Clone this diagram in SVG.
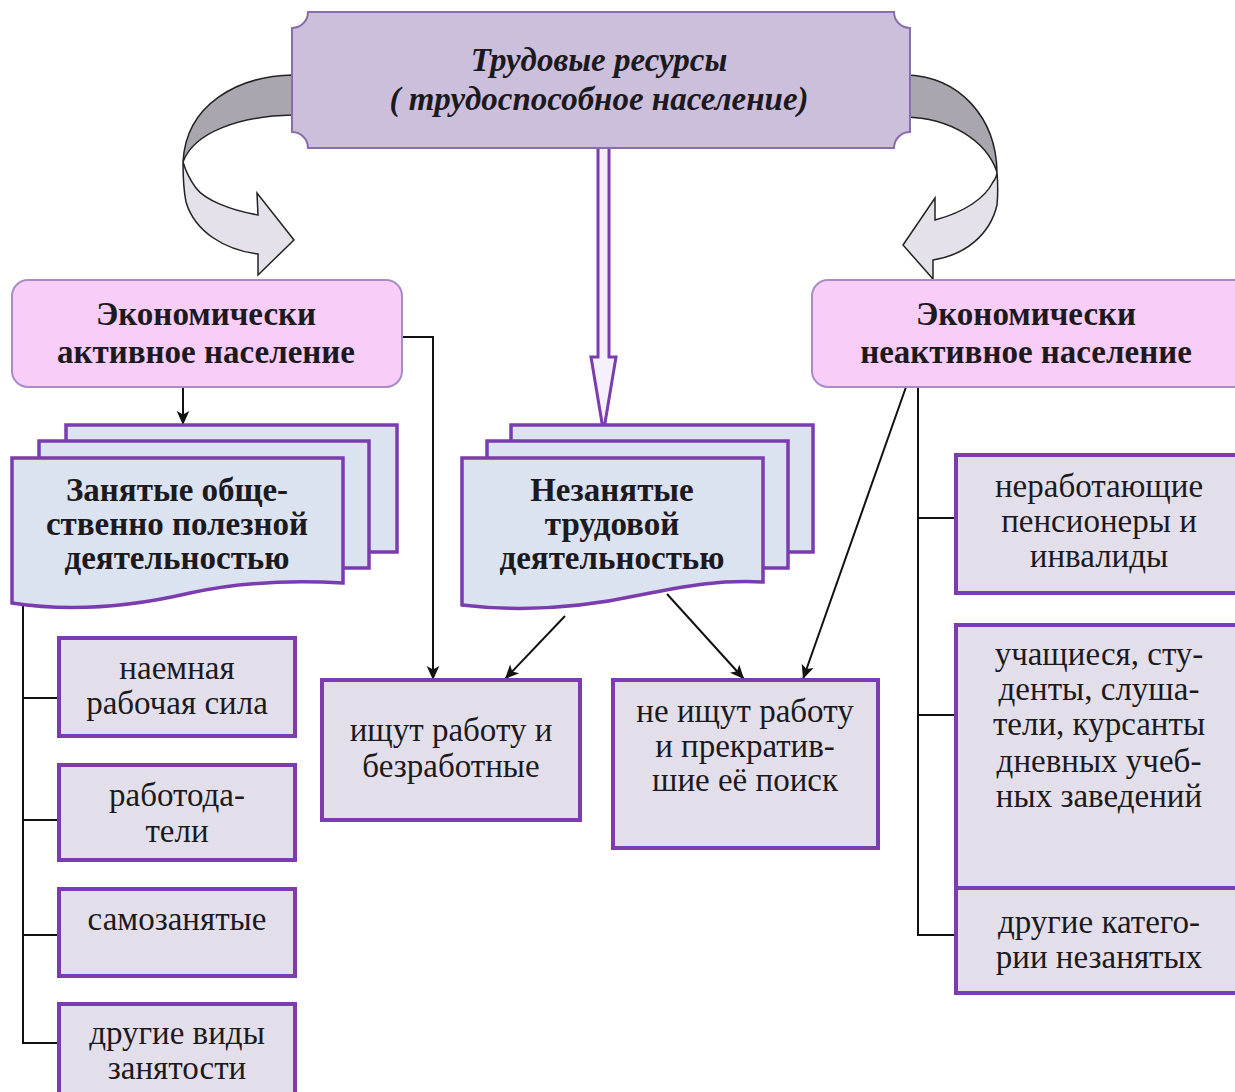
<svg xmlns="http://www.w3.org/2000/svg" width="1235" height="1092" viewBox="0 0 1235 1092">
<defs>
<style>
text{font-family:"Liberation Serif","Times New Roman",serif;fill:#1c1a1e;text-anchor:middle}
.ti{font-size:33px;font-weight:bold;font-style:italic}
.tb{font-size:33px;font-weight:bold}
.tr{font-size:33px}
.pink{fill:#f8cdf7;stroke:#a88cc8;stroke-width:2}
.doc{fill:#dbe2f0;stroke:#7b3cb0;stroke-width:3.5}
.box{fill:#e3dfea;stroke:#7b3cb0;stroke-width:4}
.ln{fill:none;stroke:#111;stroke-width:2}
.dark{fill:#a9a6af;stroke:#222;stroke-width:1.5}
.light{fill:#e4e1ea;stroke:#222;stroke-width:1.5}
</style>
<marker id="ahb" viewBox="0 0 10 10" refX="10" refY="5" markerWidth="16" markerHeight="14" markerUnits="userSpaceOnUse" orient="auto"><path d="M0,0.5 L10,5 L0,9.5 L2.5,5 Z" fill="#111"/></marker>
</defs>
<rect width="1235" height="1092" fill="#ffffff"/>

<g id="connectors">
<path class="dark" d="M293,75 C238,76 186,104 183,162 C194,132 240,116 293,115 Z"/>
<path class="light" d="M183,162 C183,182 184,192 186,202 C195,232 225,250 258,254 L258,275 L294,240 L257,193 L258,215 C230,210 205,200 196,188 C190,180 186,172 183,162 Z"/>
<path class="dark" d="M905,75 C960,76 996,118 997,172 C986,140 950,118 905,117 Z"/>
<path class="light" d="M997,172 C998,185 998,195 997,205 C990,235 965,255 933,260 L933,279 L903,245 L935,198 L935,220 C965,212 985,198 993,182 C996,178 997,175 997,172 Z"/>
<path d="M598,148 V357 H591 L603.5,432 L616,357 H609 V148" fill="#f5f0fb" stroke="#7b3cb0" stroke-width="3" stroke-linejoin="miter"/>
<path class="ln" d="M183,387 V425" marker-end="url(#ahb)"/>
<path class="ln" d="M402,337 H433 V680" marker-end="url(#ahb)"/>
<path class="ln" d="M565,616 L505,679" marker-end="url(#ahb)"/>
<path class="ln" d="M667,594 L744,679" marker-end="url(#ahb)"/>
<path class="ln" d="M906,387 L803,679" marker-end="url(#ahb)"/>
<path class="ln" d="M23,603 V1043 H59 M23,698 H59 M23,820 H59 M23,935 H59"/>
<path class="ln" d="M918,387 V935 H956 M918,518 H956 M918,715 H956"/>
</g>

<g id="top">
<path d="M308,12 H894 A16,16 0 0 0 910,28 V132 A16,16 0 0 0 894,148 H308 A16,16 0 0 0 292,132 V28 A16,16 0 0 0 308,12 Z" fill="#cbbfdc" stroke="#8a6dac" stroke-width="2"/>
<text class="ti" x="599" y="71">Трудовые ресурсы</text>
<text class="ti" x="599" y="110">( трудоспособное население)</text>
</g>

<g id="active">
<rect class="pink" x="12" y="280" width="390" height="107" rx="16"/>
<text class="tb" x="206" y="325">Экономически</text>
<text class="tb" x="206" y="363">активное население</text>
</g>

<g id="inactive">
<rect class="pink" x="812" y="280" width="440" height="107" rx="16"/>
<text class="tb" x="1026" y="325">Экономически</text>
<text class="tb" x="1026" y="363">неактивное население</text>
</g>

<g id="employed">
<rect class="doc" x="66" y="425" width="331" height="127"/>
<rect class="doc" x="39" y="441" width="330" height="127"/>
<path class="doc" d="M12,458 H343 V583 C290,580 240,582 190,593 C130,607 70,612 12,603 Z"/>
<text class="tb" x="177" y="501">Занятые обще-</text>
<text class="tb" x="177" y="535">ственно полезной</text>
<text class="tb" x="177" y="569">деятельностью</text>
</g>

<g id="unemployed">
<rect class="doc" x="511" y="425" width="302" height="127"/>
<rect class="doc" x="487" y="441" width="301" height="127"/>
<path class="doc" d="M462,458 H763 V582 C720,580 690,585 640,595 C580,608 520,612 462,605 Z"/>
<text class="tb" x="612" y="501">Незанятые</text>
<text class="tb" x="612" y="535">трудовой</text>
<text class="tb" x="612" y="569">деятельностью</text>
</g>

<g id="hired">
<rect class="box" x="59" y="638" width="236" height="98"/>
<text class="tr" x="177" y="679">наемная</text>
<text class="tr" x="177" y="714">рабочая сила</text>
</g>
<g id="employers">
<rect class="box" x="59" y="765" width="236" height="95"/>
<text class="tr" x="177" y="806">работода-</text>
<text class="tr" x="177" y="842">тели</text>
</g>
<g id="selfemployed">
<rect class="box" x="59" y="889" width="236" height="87"/>
<text class="tr" x="177" y="930">самозанятые</text>
</g>
<g id="otheremployment">
<rect class="box" x="59" y="1004" width="236" height="100"/>
<text class="tr" x="177" y="1044">другие виды</text>
<text class="tr" x="177" y="1079">занятости</text>
</g>

<g id="seeking">
<rect class="box" x="322" y="680" width="258" height="140"/>
<text class="tr" x="451" y="741">ищут работу и</text>
<text class="tr" x="451" y="777">безработные</text>
</g>
<g id="notseeking">
<rect class="box" x="613" y="680" width="265" height="168"/>
<text class="tr" x="745" y="722">не ищут работу</text>
<text class="tr" x="745" y="757">и прекратив-</text>
<text class="tr" x="745" y="791">шие её поиск</text>
</g>

<g id="pensioners">
<rect class="box" x="956" y="455" width="290" height="138"/>
<text class="tr" x="1099" y="497">неработающие</text>
<text class="tr" x="1099" y="532">пенсионеры и</text>
<text class="tr" x="1099" y="567">инвалиды</text>
</g>
<g id="students">
<rect class="box" x="956" y="625" width="290" height="263"/>
<text class="tr" x="1099" y="665">учащиеся, сту-</text>
<text class="tr" x="1099" y="700">денты, слуша-</text>
<text class="tr" x="1099" y="735">тели, курсанты</text>
<text class="tr" x="1099" y="772">дневных учеб-</text>
<text class="tr" x="1099" y="807">ных заведений</text>
</g>
<g id="othercategories">
<rect class="box" x="956" y="888" width="290" height="105"/>
<text class="tr" x="1099" y="933">другие катего-</text>
<text class="tr" x="1099" y="968">рии незанятых</text>
</g>
</svg>
